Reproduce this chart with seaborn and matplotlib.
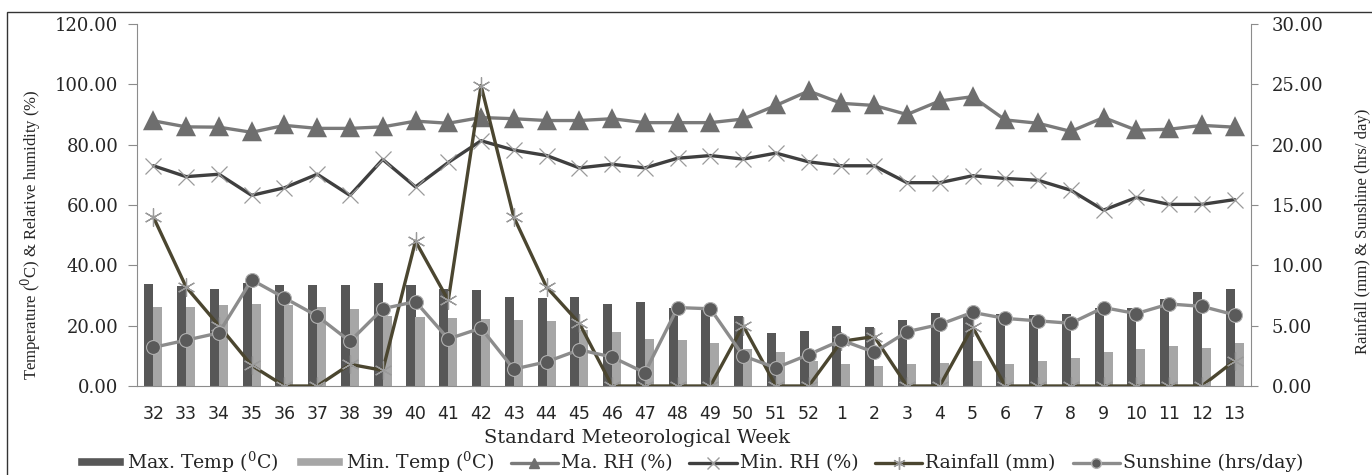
import numpy as np
import pandas as pd
import matplotlib
matplotlib.use("Agg")
import matplotlib.pyplot as plt
from matplotlib.patches import Rectangle, Patch
from matplotlib.lines import Line2D
import seaborn as sns

# Standard meteorological weeks
weeks = ["32", "33", "34", "35", "36", "37", "38", "39", "40", "41", "42", "43",
         "44", "45", "46", "47", "48", "49", "50", "51", "52", "1", "2", "3",
         "4", "5", "6", "7", "8", "9", "10", "11", "12", "13"]

max_temp = [33.7, 33.0, 32.2, 34.0, 33.4, 33.6, 33.4, 34.2, 33.4, 32.2, 31.7, 29.4,
            29.2, 29.4, 27.3, 27.9, 26.0, 25.5, 23.1, 17.7, 18.2, 20.0, 19.4, 22.0,
            24.2, 24.0, 24.0, 23.7, 24.0, 26.0, 26.0, 28.7, 31.0, 32.2]
min_temp = [26.3, 26.3, 27.0, 27.2, 26.7, 26.3, 25.4, 23.3, 22.9, 22.6, 22.3, 22.0,
            21.7, 18.5, 17.8, 15.5, 15.2, 14.4, 12.1, 11.3, 8.2, 7.3, 6.6, 7.3,
            7.5, 8.4, 7.3, 8.4, 9.2, 11.3, 12.2, 13.2, 12.6, 14.4]
max_rh = [87.9, 85.9, 85.8, 84.1, 86.4, 85.4, 85.4, 85.9, 87.8, 87.1, 89.0, 88.6,
          88.0, 88.0, 88.6, 87.3, 87.3, 87.3, 88.5, 93.0, 97.8, 93.7, 93.0, 90.0,
          94.5, 95.9, 88.2, 87.1, 84.4, 89.0, 84.8, 85.1, 86.4, 85.8]
min_rh = [73.0, 69.4, 70.2, 63.2, 65.7, 70.2, 63.2, 75.1, 66.0, 74.1, 81.3, 78.2,
          76.4, 72.3, 73.5, 72.3, 75.5, 76.4, 75.2, 77.2, 74.3, 73.0, 73.0, 67.4,
          67.4, 69.7, 68.8, 68.2, 64.9, 58.3, 62.5, 60.2, 60.2, 61.8]
rainfall = [14.0, 8.2, 5.0, 1.7, 0.0, 0.0, 1.8, 1.3, 12.0, 7.1, 24.9, 14.0,
            8.2, 5.2, 0.0, 0.0, 0.0, 0.0, 5.0, 0.0, 0.0, 3.7, 4.1, 0.0,
            0.0, 4.9, 0.0, 0.0, 0.0, 0.0, 0.0, 0.0, 0.0, 2.1]
sunshine = [3.2, 3.8, 4.4, 8.8, 7.3, 5.8, 3.7, 6.4, 7.0, 3.9, 4.8, 1.4,
            2.0, 3.0, 2.4, 1.1, 6.5, 6.4, 2.5, 1.5, 2.6, 3.8, 2.8, 4.5,
            5.1, 6.1, 5.6, 5.4, 5.2, 6.5, 6.0, 6.8, 6.6, 5.9]

sns.set_style("white")
plt.rcParams['font.family'] = ['DejaVu Serif']
plt.rcParams['mathtext.fontset'] = 'dejavuserif'

c_max = '#575757'
c_min = '#a6a6a6'
c_marh = '#7a7a7a'
c_minrh = '#3f3f3f'
c_rain = '#4b4630'
c_sun = '#8c8c8c'
c_spine = '#8c8c8c'

fig = plt.figure(figsize=(13.72, 4.75), dpi=100)
ax = fig.add_axes([137 / 1372, 1 - 386 / 475, (1251 - 137) / 1372, (386 - 24) / 475])

bars = pd.DataFrame({
    'week': weeks * 2,
    'value': max_temp + min_temp,
    'series': ['Max'] * len(weeks) + ['Min'] * len(weeks),
})
sns.barplot(data=bars, x='week', y='value', hue='series', order=weeks,
            palette=[c_max, c_min], width=0.55, gap=0, saturation=1,
            legend=False, ax=ax, errorbar=None, linewidth=0)

sns.pointplot(x=weeks, y=max_rh, order=weeks, ax=ax, color=c_marh, errorbar=None,
              markers='^', markersize=11, linewidth=2.4,
              markerfacecolor='#6e6e6e', markeredgecolor='#6e6e6e')
sns.pointplot(x=weeks, y=min_rh, order=weeks, ax=ax, color=c_minrh, errorbar=None,
              markers='x', markersize=12, linewidth=2.4, markeredgewidth=0.9,
              markeredgecolor='#9a9a9a')

ax2 = ax.twinx()
sns.pointplot(x=weeks, y=rainfall, order=weeks, ax=ax2, color=c_rain, errorbar=None,
              markers=(6, 2, 0), markersize=13, linewidth=2.4, markeredgewidth=0.9,
              markeredgecolor='#9a9a9a')
sns.pointplot(x=weeks, y=sunshine, order=weeks, ax=ax2, color=c_sun, errorbar=None,
              markers='o', markersize=10, linewidth=2.4,
              markerfacecolor='#5a5a5a', markeredgecolor='#b0b0b0', markeredgewidth=0.8)

n = len(weeks)
for a in (ax, ax2):
    a.set_xlim(-0.5, n - 0.5)
    a.set_xlabel('')
    a.set_ylabel('')
ax.set_ylim(0, 120)
ax2.set_ylim(0, 30)
ax.set_yticks(np.arange(0, 121, 20))
ax2.set_yticks(np.arange(0, 31, 5))
ax.set_yticklabels([f'{v:.2f}' for v in np.arange(0, 121, 20)], fontsize=13)
ax2.set_yticklabels([f'{v:.2f}' for v in np.arange(0, 31, 5)], fontsize=13)

ax.set_xticks(range(n))
ax.set_xticklabels(weeks, family='DejaVu Sans', fontsize=12.5)
ax.set_xticks(np.arange(-0.5, n, 1), minor=True)
ax.tick_params(axis='x', which='major', length=0, pad=14)
ax.tick_params(axis='x', which='minor', length=4, color=c_spine, direction='out')
ax.tick_params(axis='y', length=6.5, color=c_spine, direction='out', pad=7)
ax2.tick_params(axis='y', length=5, color=c_spine, direction='out', pad=10)

for a in (ax, ax2):
    a.spines['top'].set_visible(False)
    for s in ('left', 'right', 'bottom'):
        a.spines[s].set_color(c_spine)
ax.spines['right'].set_visible(False)
ax2.spines['left'].set_visible(False)
ax2.spines['bottom'].set_visible(False)

fig.text(31 / 1372, 1 - 235 / 475, r'Temperature ($^{0}$C) & Relative humidity (%)',
         rotation=90, va='center', ha='center', fontsize=12,
         family=['Liberation Serif', 'DejaVu Serif'])
fig.text(1363 / 1372, 1 - 231 / 475, 'Rainfall (mm) & Sunshine (hrs/ day)',
         rotation=90, va='center', ha='center', fontsize=12,
         family=['Liberation Serif', 'DejaVu Serif'])
fig.text(637 / 1372, 1 - 438 / 475, 'Standard Meteorological Week',
         va='center', ha='center', fontsize=14)

handles = [
    Patch(facecolor=c_max, label=r'Max. Temp ($^{0}$C)'),
    Patch(facecolor=c_min, label=r'Min. Temp ($^{0}$C)'),
    Line2D([], [], color=c_marh, lw=2.4, marker='^', ms=7, mfc='#6e6e6e', mec='#6e6e6e',
           label='Ma. RH (%)'),
    Line2D([], [], color=c_minrh, lw=2.4, marker='x', ms=8, mec='#9a9a9a', label='Min. RH (%)'),
    Line2D([], [], color=c_rain, lw=2.4, marker=(6, 2, 0), ms=9, mec='#9a9a9a',
           label='Rainfall (mm)'),
    Line2D([], [], color=c_sun, lw=2.4, marker='o', ms=7, mfc='#5a5a5a', mec='#b0b0b0',
           label='Sunshine (hrs/day)'),
]
fig.legend(handles=handles, loc='center', bbox_to_anchor=(690 / 1372, 1 - 462 / 475),
           ncol=6, frameon=False, fontsize=13.6, handlelength=2.5, handleheight=0.35,
           columnspacing=0.9, handletextpad=0.15, borderaxespad=0, borderpad=0)

fig.add_artist(Rectangle((7 / 1372, -0.2), 1.2, 1.2 - 12 / 475, transform=fig.transFigure,
                         fill=False, edgecolor='#333333', lw=1))

fig.savefig('out.png', dpi=100)
